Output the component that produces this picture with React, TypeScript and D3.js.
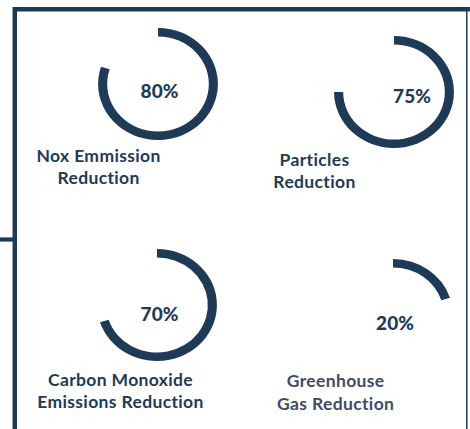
import * as d3 from "d3";
import { useEffect, useRef } from "react";

const metrics = ["Nox Emmission Reduction", "Particles Reduction", "Carbon Monoxide Emissions Reduction", "Greenhouse Gas Reduction"];
const labelLines = [
  ["Nox Emmission", "Reduction"],
  ["Particles", "Reduction"],
  ["Carbon Monoxide", "Emissions Reduction"],
  ["Greenhouse", "Gas Reduction"],
];
const values = [80, 75, 70, 20];

// layout of each gauge: arc centre, value text offset, label centre
const layout = [
  { cx: 158, cy: 84, tx: 1.5, ty: 6, lx: 98.6, ly: 162 },
  { cx: 394, cy: 92, tx: 18, ty: 3, lx: 314.5, ly: 165.5 },
  { cx: 157, cy: 305, tx: 2.5, ty: 8, lx: 120.5, ly: 385.5 },
  { cx: 393, cy: 315, tx: 2, ty: 7, lx: 335.7, ly: 387.3 },
];
const labelColors = ["#1f3a56", "#1f3a56", "#1f3a56", "#3e4c67"];

const W = 470;
const H = 429;
const NAVY = "#1f3a56";
const FONT = "Lato, 'Noto Sans', sans-serif";

export default function App() {
  const svgRef = useRef<SVGSVGElement>(null);

  useEffect(() => {
    if (!svgRef.current) return;
    const svg = d3.select(svgRef.current);
    svg.selectAll("*").remove();

    // frame
    svg.append("path")
      .attr("d", `M14.8,${H} V9.2 H${W}`)
      .attr("fill", "none")
      .attr("stroke", NAVY)
      .attr("stroke-width", 4.5);
    svg.append("line")
      .attr("x1", 466.8).attr("x2", 466.8)
      .attr("y1", 9).attr("y2", H)
      .attr("stroke", NAVY)
      .attr("stroke-width", 1.5);
    svg.append("line")
      .attr("x1", 0).attr("x2", 14)
      .attr("y1", 239.5).attr("y2", 239.5)
      .attr("stroke", NAVY)
      .attr("stroke-width", 4.2);

    const angle = d3.scaleLinear().domain([0, 100]).range([0, 2 * Math.PI]);
    const arc = d3.arc<number>()
      .innerRadius(47.5)
      .outerRadius(56)
      .startAngle(0)
      .endAngle((d) => angle(d));

    values.forEach((v, i) => {
      const p = layout[i];
      const g = svg.append("g")
        .attr("transform", `translate(${p.cx},${p.cy}) scale(1.07,1)`);
      g.append("path")
        .datum(v)
        .attr("d", arc as any)
        .attr("fill", NAVY)
        .append("title")
        .text(metrics[i]);

      svg.append("text")
        .attr("x", p.cx + p.tx)
        .attr("y", p.cy + p.ty)
        .attr("text-anchor", "middle")
        .attr("dominant-baseline", "central")
        .attr("fill", NAVY)
        .attr("font-family", FONT)
        .attr("font-weight", 900)
        .attr("font-size", 19)
        .text(`${v}%`);

      const label = svg.append("text")
        .attr("text-anchor", "middle")
        .attr("fill", labelColors[i])
        .attr("font-family", FONT)
        .attr("font-weight", 700)
        .attr("font-size", 17.5)
        .attr("letter-spacing", 0.35);
      labelLines[i].forEach((line, j) => {
        label.append("tspan")
          .attr("x", p.lx)
          .attr("y", p.ly + j * 22.3)
          .text(line);
      });
    });
  }, []);

  return (
    <svg
      ref={svgRef}
      width={W}
      height={H}
      style={{ position: "absolute", left: 0, top: 0, background: "#fff" }}
    />
  );
}
